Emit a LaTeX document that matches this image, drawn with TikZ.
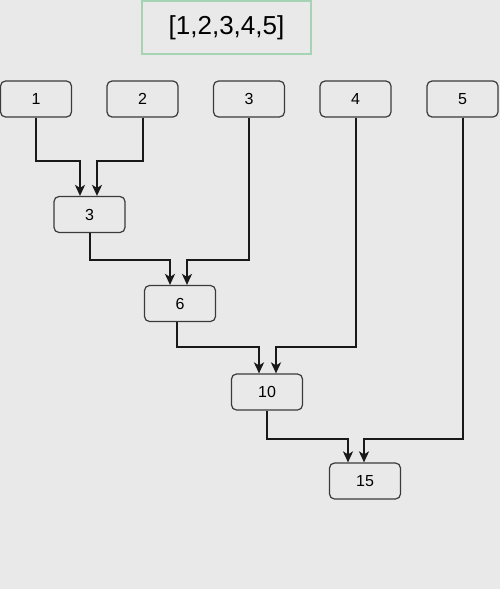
\documentclass[tikz,border=0pt]{standalone}
\usepackage{fontspec}
\setmainfont{Liberation Sans}
\usetikzlibrary{arrows.meta}
\definecolor{bg}{HTML}{E9E9E9}
\definecolor{bordergray}{HTML}{3A3A3A}
\definecolor{titlegreen}{HTML}{A6D3B4}
\tikzset{
  numbox/.style={draw=bordergray, line width=1.2pt, rounded corners=5pt, fill=bg,
    minimum width=71pt, minimum height=36pt, inner sep=0pt, font=\fontsize{16}{19}\selectfont},
  titlebox/.style={draw=titlegreen, line width=1.2pt, fill=bg,
    minimum width=169pt, minimum height=53pt, inner sep=0pt, font=\fontsize{26}{30}\selectfont},
  link/.style={draw=black!90, line width=2pt, -{Stealth[length=11pt,width=10pt,inset=3pt]}},
}
\begin{document}
\begin{tikzpicture}[x=1pt,y=-1pt]
\useasboundingbox (0,0) rectangle (500,589);
\fill[bg] (0,0) rectangle (500,589);
\node[titlebox] (title) at (226.5,27.5) {[1,2,3,4,5]};
\node[numbox] (n1) at (36,99) {1};
\node[numbox] (n2) at (142.5,99) {2};
\node[numbox] (n3) at (249,99) {3};
\node[numbox] (n4) at (355.5,99) {4};
\node[numbox] (n5) at (462.5,99) {5};
\node[numbox] (s3) at (89.5,214.5) {3};
\node[numbox] (s6) at (180,303.5) {6};
\node[numbox] (s10) at (267,392) {10};
\node[numbox] (s15) at (365,481) {15};
% level 1
\coordinate (a1) at (80,0);
\coordinate (a2) at (97,0);
\draw[link] (n1.south) |- (36,161) -| (a1 |- s3.north);
\draw[link] (n2.south) |- (142.5,161) -| (a2 |- s3.north);
% level 2
\coordinate (b1) at (170,0);
\coordinate (b2) at (187,0);
\draw[link] (s3.south) |- (89.5,260) -| (b1 |- s6.north);
\draw[link] (n3.south) |- (249,260) -| (b2 |- s6.north);
% level 3
\coordinate (c1) at (259,0);
\coordinate (c2) at (276,0);
\coordinate (c0) at (177,0);
\draw[link] (c0 |- s6.south) |- (177,347) -| (c1 |- s10.north);
\draw[link] (n4.south) |- (355.5,347) -| (c2 |- s10.north);
% level 4
\coordinate (d1) at (348,0);
\coordinate (d2) at (364,0);
\draw[link] (s10.south) |- (267,439) -| (d1 |- s15.north);
\draw[link] (n5.south) |- (462,439) -| (d2 |- s15.north);
\end{tikzpicture}
\end{document}
